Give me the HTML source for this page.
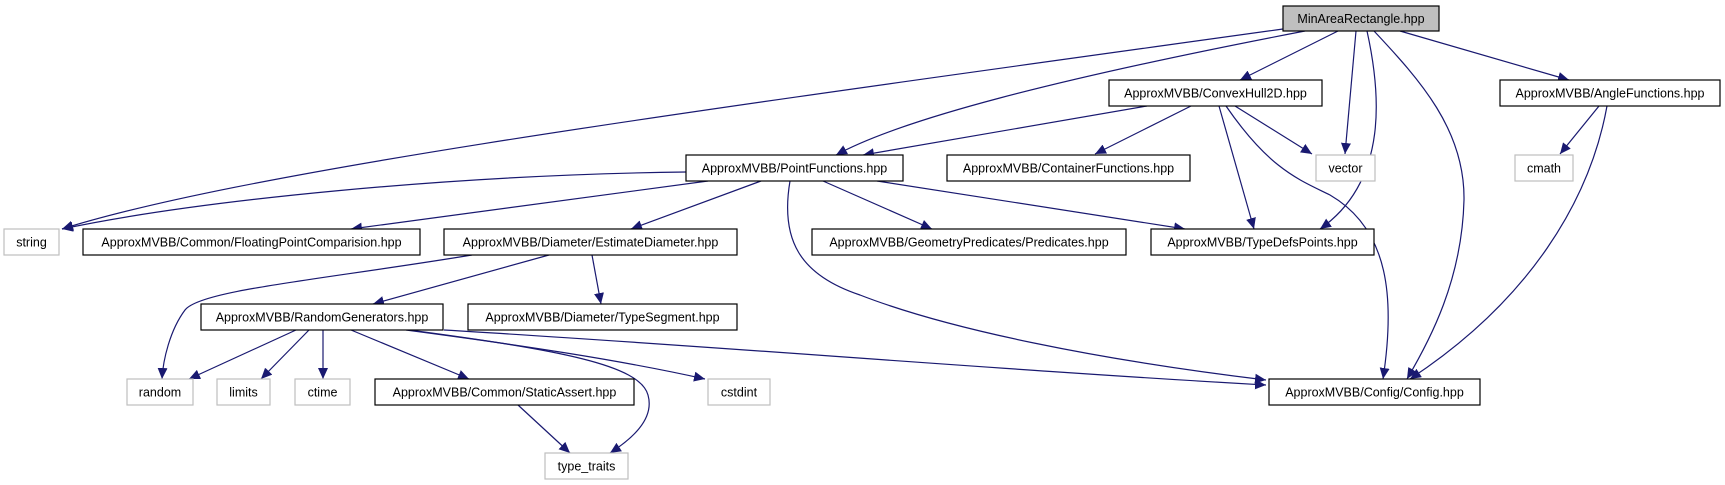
<!DOCTYPE html>
<html><head><meta charset="utf-8"><style>
html,body{margin:0;padding:0;background:#fff;}
svg{display:block;}
text{font-family:"Liberation Sans",sans-serif;font-size:12.5px;fill:#000;text-anchor:middle;}
.e{fill:none;stroke:#191970;stroke-width:1.2;marker-end:url(#a);}
.b{fill:#fff;stroke:#000;stroke-width:1.2;}
.g{fill:#fff;stroke:#bfbfbf;stroke-width:1.2;}
</style></head><body>
<svg width="1725" height="485" viewBox="0 0 1725 485" xmlns="http://www.w3.org/2000/svg">
<defs><marker id="a" markerUnits="userSpaceOnUse" markerWidth="12" markerHeight="10" refX="11" refY="5" orient="auto"><path d="M0,0 L11,5 L0,10 Z" fill="#191970"/></marker></defs>
<!-- edges -->
<path class="e" d="M1283,29 C700,110 250,170 62,229"/>
<path class="e" d="M1305,31 C1050,80 900,120 836,155"/>
<path class="e" d="M1338,31 L1240,80"/>
<path class="e" d="M1356,31 L1345,154"/>
<path class="e" d="M1367,31 C1380,90 1390,180 1320,229"/>
<path class="e" d="M1374,31 C1420,80 1465,130 1464,200 C1462,280 1430,340 1407,379"/>
<path class="e" d="M1400,31 L1569,80"/>
<path class="e" d="M1147,106 L863,155"/>
<path class="e" d="M1191,106 L1095,154"/>
<path class="e" d="M1219,106 L1254,229"/>
<path class="e" d="M1235,106 L1312,154"/>
<path class="e" d="M1226,106 C1270,170 1300,180 1330,195 C1390,230 1395,300 1383,379"/>
<path class="e" d="M1599,106 L1560,154"/>
<path class="e" d="M1607,106 C1590,200 1530,300 1410,379"/>
<path class="e" d="M686,172 C450,175 200,200 62,229"/>
<path class="e" d="M708,181 L351,229"/>
<path class="e" d="M761,181 L631,229"/>
<path class="e" d="M823,181 L932,229"/>
<path class="e" d="M877,181 L1185,229"/>
<path class="e" d="M790,181 C780,240 800,275 860,295 C950,330 1100,360 1266,380"/>
<path class="e" d="M472,255 C320,280 200,290 185,310 C170,330 163,360 162,379"/>
<path class="e" d="M549,255 L373,304"/>
<path class="e" d="M592,255 L601,304"/>
<path class="e" d="M296,330 L189,379"/>
<path class="e" d="M309,330 L261,379"/>
<path class="e" d="M323,330 L323,379"/>
<path class="e" d="M351,330 L469,379"/>
<path class="e" d="M406,330 C520,345 620,360 705,379"/>
<path class="e" d="M409,330 C560,350 640,365 648,395 C655,420 630,440 610,453"/>
<path class="e" d="M444,330 C700,345 1000,370 1266,385"/>
<path class="e" d="M518,405 L570,453"/>
<!-- nodes -->
<rect x="1283" y="6" width="156" height="25" fill="#bfbfbf" stroke="#000" stroke-width="1.2"/><text x="1361" y="23">MinAreaRectangle.hpp</text>
<rect class="b" x="1109" y="80" width="213" height="26"/><text x="1215.5" y="97.5">ApproxMVBB/ConvexHull2D.hpp</text>
<rect class="b" x="1500" y="80" width="220" height="26"/><text x="1610" y="97.5">ApproxMVBB/AngleFunctions.hpp</text>
<rect class="b" x="686" y="155" width="217" height="26"/><text x="794.5" y="172.5">ApproxMVBB/PointFunctions.hpp</text>
<rect class="b" x="947" y="155" width="243" height="26"/><text x="1068.5" y="172.5">ApproxMVBB/ContainerFunctions.hpp</text>
<rect class="g" x="1316" y="155" width="59" height="26"/><text x="1345.5" y="172.5">vector</text>
<rect class="g" x="1515" y="155" width="58" height="26"/><text x="1544" y="172.5">cmath</text>
<rect class="g" x="4" y="229" width="55" height="26"/><text x="31.5" y="246.5">string</text>
<rect class="b" x="83" y="229" width="337" height="26"/><text x="251.5" y="246.5">ApproxMVBB/Common/FloatingPointComparision.hpp</text>
<rect class="b" x="444" y="229" width="293" height="26"/><text x="590.5" y="246.5">ApproxMVBB/Diameter/EstimateDiameter.hpp</text>
<rect class="b" x="812" y="229" width="314" height="26"/><text x="969" y="246.5">ApproxMVBB/GeometryPredicates/Predicates.hpp</text>
<rect class="b" x="1151" y="229" width="223" height="26"/><text x="1262.5" y="246.5">ApproxMVBB/TypeDefsPoints.hpp</text>
<rect class="b" x="201" y="304" width="242" height="26"/><text x="322" y="321.5">ApproxMVBB/RandomGenerators.hpp</text>
<rect class="b" x="468" y="304" width="269" height="26"/><text x="602.5" y="321.5">ApproxMVBB/Diameter/TypeSegment.hpp</text>
<rect class="g" x="127" y="379" width="66" height="26"/><text x="160" y="396.5">random</text>
<rect class="g" x="217" y="379" width="53" height="26"/><text x="243.5" y="396.5">limits</text>
<rect class="g" x="295" y="379" width="55" height="26"/><text x="322.5" y="396.5">ctime</text>
<rect class="b" x="375" y="379" width="259" height="26"/><text x="504.5" y="396.5">ApproxMVBB/Common/StaticAssert.hpp</text>
<rect class="g" x="708" y="379" width="62" height="26"/><text x="739" y="396.5">cstdint</text>
<rect class="b" x="1269" y="379" width="211" height="26"/><text x="1374.5" y="396.5">ApproxMVBB/Config/Config.hpp</text>
<rect class="g" x="545" y="453" width="83" height="26"/><text x="586.5" y="470.5">type_traits</text>
</svg>
</body></html>
